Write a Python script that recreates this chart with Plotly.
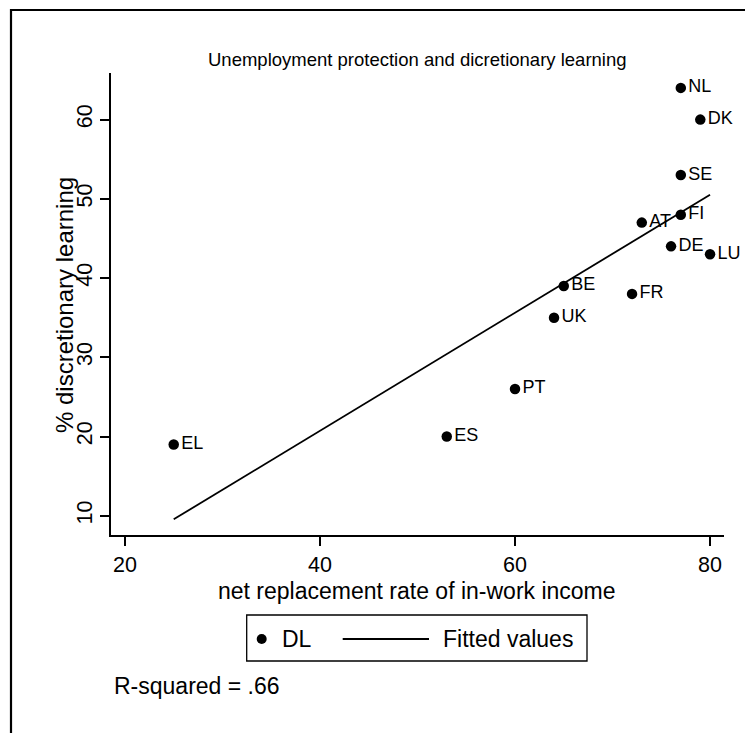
import numpy as np
import plotly.graph_objects as go

# Country data: net replacement rate vs. share of discretionary learning
countries = ["NL", "DK", "SE", "FI", "AT", "DE", "LU", "BE", "FR", "UK", "PT", "ES", "EL"]
replacement_rate = [77, 79, 77, 77, 73, 76, 80, 65, 72, 64, 60, 53, 25]
discretionary_learning = [64, 60, 53, 48, 47, 44, 43, 39, 38, 35, 26, 20, 19]
x_ticks = [20, 40, 60, 80]
y_ticks = [10, 20, 30, 40, 50, 60]

# Linear fit and R-squared
xv = np.array(replacement_rate, dtype=float)
yv = np.array(discretionary_learning, dtype=float)
slope, intercept = np.polyfit(xv, yv, 1)
order = np.argsort(xv)
fit_x = xv[order]
fit_y = slope * fit_x + intercept
r2 = np.corrcoef(xv, yv)[0, 1] ** 2
r2_text = "R-squared = " + f"{r2:.2f}".lstrip("0")

W, H = 745, 733
L, R, T, B = 111, 21, 73, 198
PW, PH = W - L - R, H - T - B
FONT = "Liberation Sans, Arial, Helvetica, sans-serif"


def px(x):
    return (x - L) / PW


def py(y):
    return (H - B - y) / PH


fig = go.Figure()

fig.add_trace(go.Scatter(
    x=fit_x, y=fit_y, mode="lines", name="Fitted values",
    line=dict(color="black", width=1.8), showlegend=False, hoverinfo="skip",
))
fig.add_trace(go.Scatter(
    x=replacement_rate, y=discretionary_learning, mode="markers+text", name="DL",
    marker=dict(color="black", size=10.5, line=dict(width=0)),
    text=countries, textposition="middle right",
    textfont=dict(family=FONT, size=18, color="black"),
    cliponaxis=False, showlegend=False,
))

axis_common = dict(
    showline=True, linecolor="black", linewidth=1.5,
    ticks="outside", ticklen=9, tickwidth=1.5, tickcolor="black",
    showgrid=False, zeroline=False,
    tickfont=dict(family=FONT, size=21.5, color="black"),
)

fig.update_xaxes(range=[18.57, 81.43], tickvals=x_ticks, **axis_common)
fig.update_yaxes(range=[7.57, 65.88], tickvals=y_ticks, tickangle=-90, **axis_common)

annotations = [
    dict(text="Unemployment protection and dicretionary learning", x=px(417), y=py(60),
         xanchor="center", yanchor="middle", font=dict(size=18.5)),
    dict(text="net replacement rate of in-work income", x=px(417), y=py(591),
         xanchor="center", yanchor="middle", font=dict(size=23)),
    dict(text="% discretionary learning", x=px(64), y=py(305), textangle=-90,
         xanchor="center", yanchor="middle", font=dict(size=24)),
    dict(text="DL", x=px(280), y=py(639), xanchor="left", yanchor="middle", font=dict(size=23)),
    dict(text="Fitted values", x=px(441), y=py(639), xanchor="left", yanchor="middle",
         font=dict(size=23)),
    dict(text=r2_text, x=px(112), y=py(686), xanchor="left", yanchor="middle",
         font=dict(size=23)),
]
for a in annotations:
    a.update(xref="paper", yref="paper", showarrow=False)
    a["font"].update(family=FONT, color="black")

shapes = [
    # outer graph frame
    dict(type="rect", x0=px(11), x1=px(W + 40), y0=py(10), y1=py(H + 40),
         line=dict(color="black", width=2.2), layer="below"),
    # legend box and keys
    dict(type="rect", x0=px(246.7), x1=px(587), y0=py(615), y1=py(661),
         line=dict(color="black", width=1.3)),
    dict(type="circle", x0=px(256.7), x1=px(266.7), y0=py(634), y1=py(644),
         fillcolor="black", line=dict(color="black", width=0)),
    dict(type="line", x0=px(342.7), x1=px(429), y0=py(639), y1=py(639),
         line=dict(color="black", width=1.8)),
]
for s in shapes:
    s.update(xref="paper", yref="paper")

fig.update_layout(
    width=W, height=H,
    margin=dict(l=L, r=R, t=T, b=B),
    paper_bgcolor="white", plot_bgcolor="white",
    font=dict(family=FONT, color="black"),
    annotations=annotations, shapes=shapes,
    showlegend=False,
)

fig.write_html("out.html")
